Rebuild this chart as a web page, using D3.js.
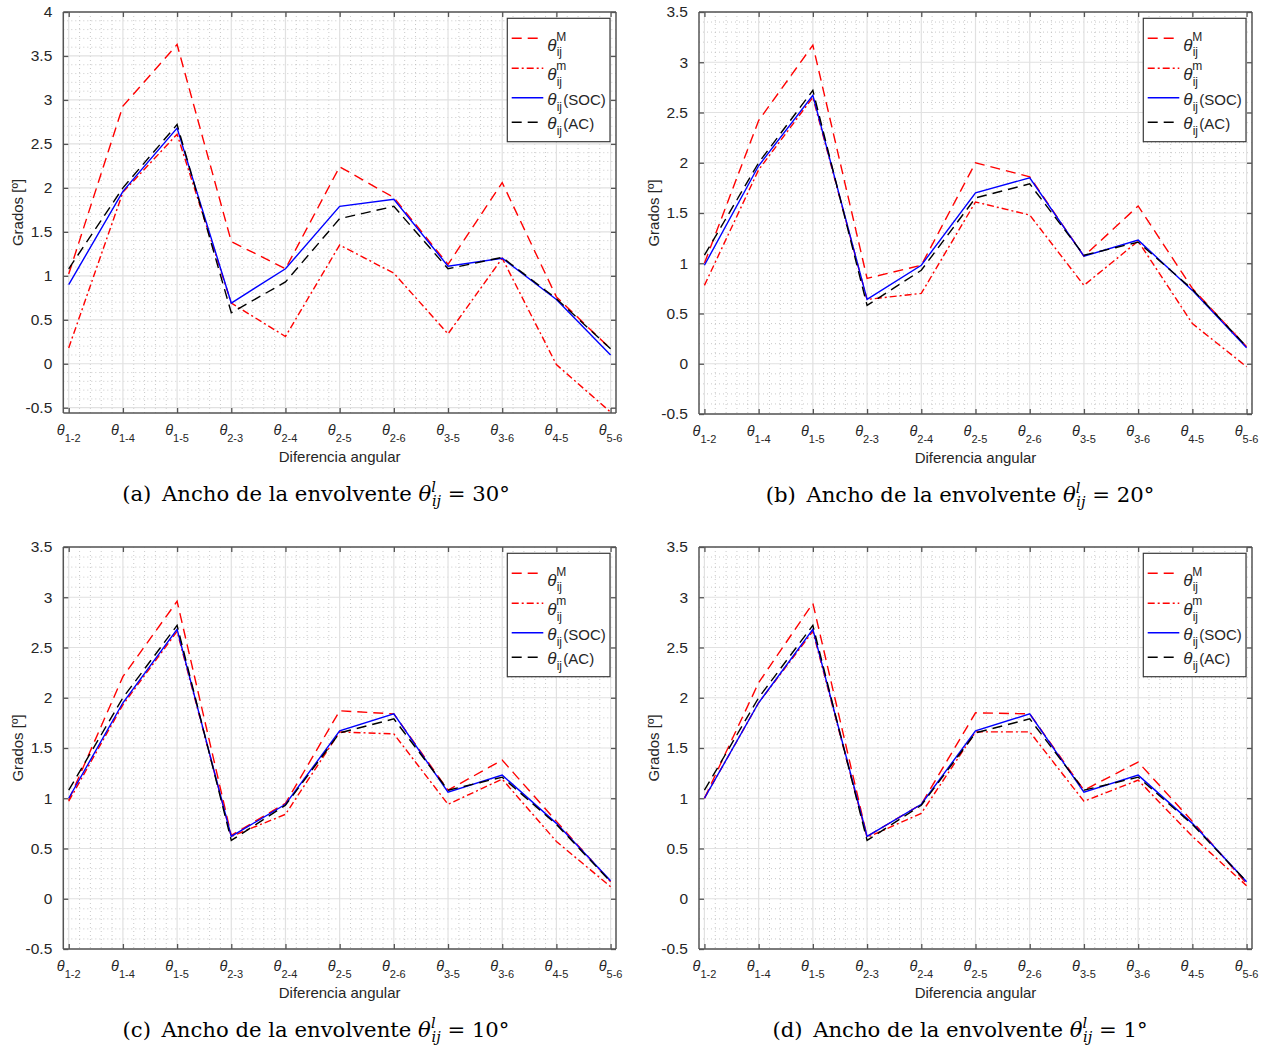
<!DOCTYPE html>
<html>
<head>
<meta charset="utf-8">
<script src="https://cdn.jsdelivr.net/npm/d3@7"></script>
<style>
body{margin:0;background:#fff;}
svg{display:block;font-family:"Liberation Sans",Arial,sans-serif;}
</style>
</head>
<body>
<div class="visualization"></div>
<script>
// categories (angle differences between buses)
var pairs = ["1-2","1-4","1-5","2-3","2-4","2-5","2-6","3-5","3-6","4-5","5-6"];

// AC solution, same in every panel
var acValues = [1.08, 2.00, 2.72, 0.58, 0.93, 1.65, 1.79, 1.08, 1.21, 0.74, 0.17];

// (a) envelope width 30
var maxA = [1.02, 2.93, 3.63, 1.39, 1.08, 2.24, 1.89, 1.13, 2.06, 0.76, 0.17];
var minA = [0.18, 1.95, 2.61, 0.69, 0.31, 1.35, 1.03, 0.34, 1.20, -0.01, -0.55];
var socA = [0.90, 1.96, 2.68, 0.69, 1.08, 1.79, 1.87, 1.11, 1.20, 0.73, 0.10];

// (b) envelope width 20
var maxB = [1.00, 2.42, 3.17, 0.85, 0.98, 2.00, 1.86, 1.07, 1.57, 0.75, 0.17];
var minB = [0.78, 1.93, 2.65, 0.64, 0.70, 1.61, 1.48, 0.78, 1.22, 0.40, -0.03];
var socB = [0.98, 1.97, 2.67, 0.64, 0.98, 1.70, 1.85, 1.07, 1.23, 0.73, 0.16];

// (c) envelope width 10
var maxC = [0.98, 2.21, 2.96, 0.63, 0.95, 1.87, 1.84, 1.08, 1.38, 0.77, 0.17];
var minC = [0.97, 1.93, 2.66, 0.62, 0.84, 1.66, 1.64, 0.94, 1.19, 0.57, 0.12];
var socC = [1.00, 1.95, 2.68, 0.62, 0.94, 1.67, 1.84, 1.06, 1.23, 0.75, 0.18];

// (d) envelope width 1
var maxD = [1.00, 2.15, 2.94, 0.62, 0.94, 1.85, 1.84, 1.08, 1.36, 0.77, 0.15];
var minD = [1.00, 1.95, 2.66, 0.61, 0.85, 1.66, 1.66, 0.97, 1.18, 0.62, 0.13];
var socD = [1.00, 1.95, 2.68, 0.62, 0.94, 1.67, 1.84, 1.06, 1.23, 0.75, 0.17];

var letters = ["a", "b", "c", "d"];
var envWidths = ["30", "20", "10", "1"];
var yLimits = [[-0.56, 4], [-0.5, 3.5], [-0.5, 3.5], [-0.5, 3.5]];
var maxSeries = [maxA, maxB, maxC, maxD];
var minSeries = [minA, minB, minC, minD];
var socSeries = [socA, socB, socC, socD];

var W = 1264, H = 1046;
// axes boxes of the four panels
var boxes = [
    {left: 63.3, top: 12, right: 616, bottom: 413},
    {left: 699, top: 12, right: 1252, bottom: 414},
    {left: 63.3, top: 547, right: 616, bottom: 949},
    {left: 699, top: 547, right: 1252, bottom: 949}
];
var captionX = [316, 960, 316, 960];

var svg = d3.select(".visualization").append("svg")
    .attr("width", W).attr("height", H);

var defs = svg.append("defs");

function drawPanel(p){
    var b = boxes[p];
    var x = d3.scaleLinear().domain([0.9, 11.1]).range([b.left, b.right]);
    var y = d3.scaleLinear().domain(yLimits[p]).range([b.bottom, b.top]);
    var g = svg.append("g");

    defs.append("clipPath").attr("id", "clip" + p)
        .append("rect").attr("x", b.left).attr("y", b.top)
        .attr("width", b.right - b.left).attr("height", b.bottom - b.top);

    // y ticks every 0.5
    var yTicks = [];
    for(var v = Math.ceil(yLimits[p][0] * 2) / 2; v <= yLimits[p][1] + 1e-9; v += 0.5){
        yTicks.push(Math.round(v * 10) / 10);
    }
    // minor grid
    var yMinor = [];
    for(var k = Math.ceil(yLimits[p][0] * 10); k <= Math.floor(yLimits[p][1] * 10); k++){
        if(k % 5 != 0) yMinor.push(k / 10);
    }
    var xMinor = [];
    for(var k = 5; k <= 55; k++){
        if(k % 5 != 0) xMinor.push(k / 5);
    }
    var xTicks = d3.range(1, 12);

    var grid = g.append("g");
    grid.selectAll(".ymin").data(yMinor).join("line")
        .attr("x1", b.left).attr("x2", b.right)
        .attr("y1", d => y(d)).attr("y2", d => y(d))
        .attr("stroke", "#bdbdbd").attr("stroke-width", 0.8).attr("stroke-dasharray", "1,3");
    grid.selectAll(".xmin").data(xMinor).join("line")
        .attr("y1", b.top).attr("y2", b.bottom)
        .attr("x1", d => x(d)).attr("x2", d => x(d))
        .attr("stroke", "#bdbdbd").attr("stroke-width", 0.8).attr("stroke-dasharray", "1,3");
    grid.selectAll(".ymaj").data(yTicks).join("line")
        .attr("x1", b.left).attr("x2", b.right)
        .attr("y1", d => y(d)).attr("y2", d => y(d))
        .attr("stroke", "#e1e1e1").attr("stroke-width", 1.2);
    grid.selectAll(".xmaj").data(xTicks).join("line")
        .attr("y1", b.top).attr("y2", b.bottom)
        .attr("x1", d => x(d)).attr("x2", d => x(d))
        .attr("stroke", "#e1e1e1").attr("stroke-width", 1.2);

    // lines
    var series = [
        {values: maxSeries[p], color: "#ff0000", dash: "10,6"},
        {values: minSeries[p], color: "#ff0000", dash: "7,3,2,3"},
        {values: socSeries[p], color: "#0000ff", dash: null},
        {values: acValues, color: "#000000", dash: "10,6"}
    ];
    var line = d3.line().x((d, i) => x(i + 1)).y(d => y(d));
    g.append("g").attr("clip-path", "url(#clip" + p + ")")
        .selectAll("path").data(series).join("path")
        .attr("d", d => line(d.values))
        .attr("fill", "none")
        .attr("stroke", d => d.color)
        .attr("stroke-width", 1.4)
        .attr("stroke-dasharray", d => d.dash);

    // axes with inward ticks on all four sides
    var axCol = "#555";
    var left = g.append("g").attr("transform", "translate(" + b.left + ",0)")
        .call(d3.axisLeft(y).tickValues(yTicks).tickSize(-5).tickPadding(11).tickFormat(d => String(d)));
    var right = g.append("g").attr("transform", "translate(" + b.right + ",0)")
        .call(d3.axisRight(y).tickValues(yTicks).tickSize(-5).tickFormat(""));
    var bottom = g.append("g").attr("transform", "translate(0," + b.bottom + ")")
        .call(d3.axisBottom(x).tickValues(xTicks).tickSize(-5).tickFormat(""));
    var top = g.append("g").attr("transform", "translate(0," + b.top + ")")
        .call(d3.axisTop(x).tickValues(xTicks).tickSize(-5).tickFormat(""));
    [left, right, bottom, top].forEach(function(a){
        a.select(".domain").attr("stroke", axCol).attr("stroke-width", 1.5);
        a.selectAll(".tick line").attr("stroke", axCol).attr("stroke-width", 1.3);
        a.selectAll("text").attr("font-size", 15.5).attr("fill", "#262626")
            .attr("font-family", "Liberation Sans, Arial, sans-serif");
    });
    // d3 draws outer ticks at domain ends; remove them for box look
    [left, right].forEach(a => a.select(".domain").attr("d", "M0," + b.bottom + "V" + b.top));
    [bottom, top].forEach(a => a.select(".domain").attr("d", "M" + b.left + ",0H" + b.right));

    // x tick labels theta_{i-j}
    g.selectAll(".xlab").data(pairs).join("text")
        .attr("x", (d, i) => x(i + 1)).attr("y", b.bottom + 22)
        .attr("text-anchor", "middle").attr("fill", "#262626")
        .each(function(d){
            var t = d3.select(this);
            t.append("tspan").attr("font-style", "italic").attr("font-size", 14.5).text("θ");
            t.append("tspan").attr("font-size", 11).attr("dy", 7).text(d);
        });

    // axis labels
    g.append("text").attr("x", (b.left + b.right) / 2).attr("y", b.bottom + 49)
        .attr("text-anchor", "middle").attr("font-size", 15).attr("fill", "#262626")
        .text("Diferencia angular");
    g.append("text")
        .attr("transform", "translate(" + (b.left - 40) + "," + ((b.top + b.bottom) / 2) + ") rotate(-90)")
        .attr("text-anchor", "middle").attr("font-size", 15).attr("fill", "#262626")
        .text("Grados [º]");

    // legend
    var leg = g.append("g").attr("transform", "translate(" + (b.right - 108.7) + "," + (b.top + 6.3) + ")");
    leg.append("rect").attr("width", 102.7).attr("height", 123.4)
        .attr("fill", "#fff").attr("stroke", "#3a3a3a").attr("stroke-width", 1.2);
    var rows = [
        {ly: 20, tb: 32.5, sup: "M", supB: 22.5, subB: 37.6, tail: ""},
        {ly: 50, tb: 62, sup: "m", supB: 51.5, subB: 67.6, tail: ""},
        {ly: 79.4, tb: 87, sup: "", supB: 0, subB: 93.2, tail: "(SOC)"},
        {ly: 104, tb: 111, sup: "", supB: 0, subB: 117.2, tail: "(AC)"}
    ];
    rows.forEach(function(r, i){
        leg.append("line").attr("x1", 4.4).attr("x2", 36).attr("y1", r.ly).attr("y2", r.ly)
            .attr("stroke", series[i].color).attr("stroke-width", 1.4)
            .attr("stroke-dasharray", series[i].dash);
        leg.append("text").attr("x", 40).attr("y", r.tb).attr("font-size", 17)
            .attr("font-style", "italic").attr("fill", "#262626").text("θ");
        if(r.sup) leg.append("text").attr("x", 49).attr("y", r.supB).attr("font-size", 12)
            .attr("fill", "#262626").text(r.sup);
        leg.append("text").attr("x", 49.4).attr("y", r.subB).attr("font-size", 12)
            .attr("fill", "#262626").text("ij");
        if(r.tail) leg.append("text").attr("x", 56).attr("y", r.tb).attr("font-size", 15)
            .attr("fill", "#262626").text(r.tail);
    });

    // caption
    var cap = g.append("text").attr("x", captionX[p]).attr("y", b.bottom + 88)
        .attr("text-anchor", "middle").attr("font-family", "DejaVu Serif, serif")
        .attr("font-size", 21.2).attr("fill", "#000");
    cap.append("tspan").text("(" + letters[p] + ")\u2002Ancho de la envolvente ");
    cap.append("tspan").attr("font-style", "italic").text("θ");
    cap.append("tspan").attr("font-style", "italic").attr("font-size", 14.5).attr("dy", -9).text("l");
    cap.append("tspan").attr("font-style", "italic").attr("font-size", 14.5).attr("dx", -4).attr("dy", 14).text("ij");
    cap.append("tspan").attr("dy", -5).text(" = " + envWidths[p] + "°");
}

for(var p = 0; p < 4; p++){
    drawPanel(p);
}
</script>
</body>
</html>
